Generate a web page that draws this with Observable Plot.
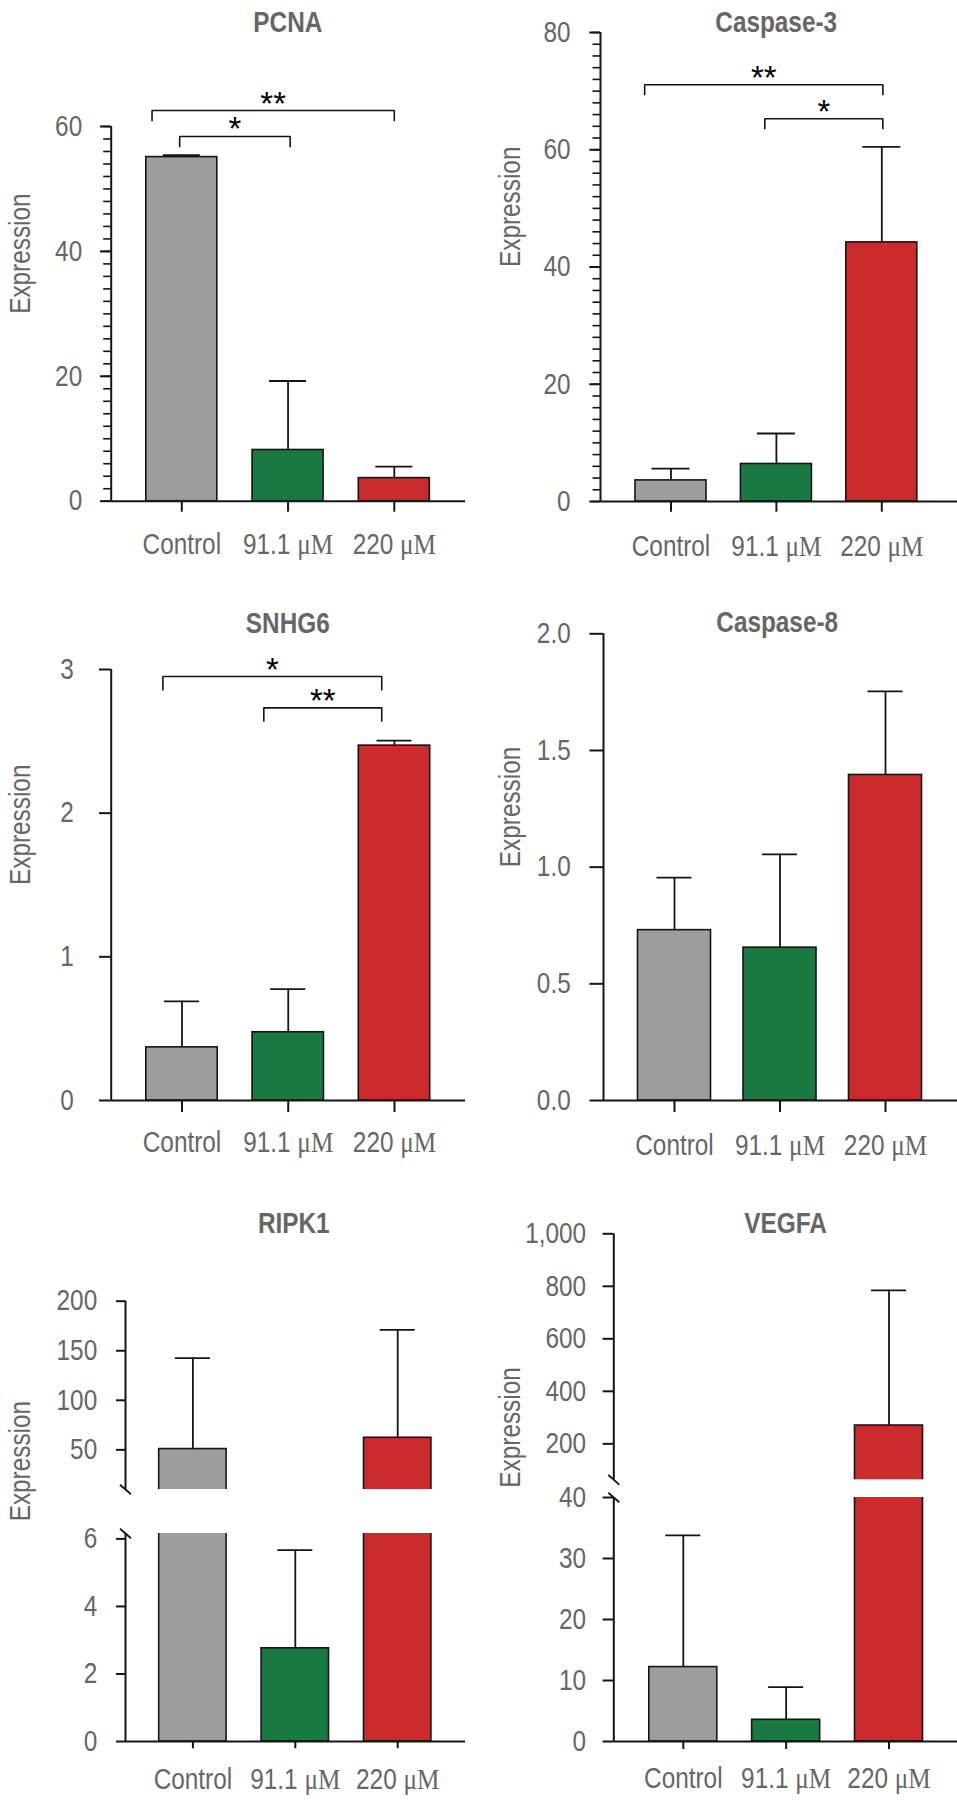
<!DOCTYPE html>
<html>
<head>
<meta charset="utf-8">
<script src="https://cdn.jsdelivr.net/npm/d3@7"></script>
<script src="https://cdn.jsdelivr.net/npm/@observablehq/plot@0.6"></script>
<style>
  html, body { margin: 0; padding: 0; background: #ffffff; }
  #root { position: relative; width: 957px; height: 1800px; overflow: hidden; background: #ffffff; }
  #root svg { position: absolute; }
</style>
</head>
<body>
<div id="root"></div>
<script>
// ---------------- DATA ----------------
const groups = ["Control", "91.1 μM", "220 μM"];
const groupIndex = [0, 1, 2];

const pcnaMean = [55.1, 8.2, 3.7];
const pcnaErr = [0.3, 11.05, 1.85];
const pcnaTicks = [0, 20, 40, 60];
const pcnaMinorTicks = [0,2,4,6,8,10,12,14,16,18,20,22,24,26,28,30,32,34,36,38,40,42,44,46,48,50,52,54,56,58,60];
const pcnaBrackets = [
  {from: -0.02, to: 1.02, y: 58.4, label: "*"},
  {from: -0.28, to: 2.0, y: 62.56, label: "**"}
];

const casp3Mean = [3.6, 6.4, 44.2];
const casp3Err = [2.0, 5.2, 16.3];
const casp3Ticks = [0, 20, 40, 60, 80];
const casp3MinorTicks = [0,2,4,6,8,10,12,14,16,18,20,22,24,26,28,30,32,34,36,38,40,42,44,46,48,50,52,54,56,58,60,62,64,66,68,70,72,74,76,78,80];
const casp3Brackets = [
  {from: -0.25, to: 2.01, y: 71.08, label: "**"},
  {from: 0.89, to: 2.01, y: 65.28, label: "*"}
];

const snhg6Mean = [0.37, 0.475, 2.47];
const snhg6Err = [0.32, 0.30, 0.035];
const snhg6Ticks = [0, 1, 2, 3];
const snhg6Brackets = [
  {from: -0.18, to: 1.88, y: 2.951, label: "*"},
  {from: 0.77, to: 1.88, y: 2.733, label: "**"}
];

const casp8Mean = [0.73, 0.655, 1.395];
const casp8Err = [0.225, 0.40, 0.358];
const casp8Ticks = [0, 0.5, 1, 1.5, 2];

const ripk1Mean = [50.8, 2.76, 62.2];
const ripk1Err = [91.8, 2.91, 108.8];
const ripk1UpperTicks = [50, 100, 150, 200];
const ripk1LowerTicks = [0, 2, 4, 6];

const vegfaMean = [12.2, 3.56, 269.7];
const vegfaErr = [21.6, 5.34, 515];
const vegfaUpperTicks = [200, 400, 600, 800, 1000];
const vegfaLowerTicks = [0, 10, 20, 30, 40];

// ---------------- STYLE ----------------
const FONT = "'Liberation Sans', Arial, sans-serif";
const SERIF = "'Liberation Serif', 'Times New Roman', serif";
const STAR_FONT = "'Liberation Sans', Arial, sans-serif";
const GRAY = "#666666";
const INK = "#151515";
const COLORS = ["#9d9d9c", "#1a7943", "#cb2b2c"];
const FS = 29;
const NARROW = 0.84;   // horizontal condensing of the sans text

const fmtInt = d3.format("d");
const fmt1 = d3.format(".1f");
const fmtComma = d3.format(",");

// ---------------- LAYOUT (pixels) ----------------
const panels = [
  {title: "PCNA", mean: pcnaMean, err: pcnaErr, brackets: pcnaBrackets, legPx: 10.7,
   left: 0, top: 0, w: 480, h: 590, axisX: 110.7, right: 465, c0: 181.3, step: 106.25, barHalf: 35.5, capHalf: 18.5,
   segs: [{domain: [0, 60], top: 126, bottom: 500.7, ticks: pcnaTicks, minor: pcnaMinorTicks}],
   yTickSize: 10.7, yTickPad: 18.3, yFormat: fmtInt, xTickSize: 11, xLabelGap: 32.6, titleX: 287.3, titleY: 31.7, labelX: 20},
  {title: "Caspase-3", mean: casp3Mean, err: casp3Err, brackets: casp3Brackets, legPx: 10.4,
   left: 480, top: 0, w: 477, h: 590, axisX: 600, right: 957, c0: 670.5, step: 105.4, barHalf: 35.5, capHalf: 19,
   segs: [{domain: [0, 80], top: 32, bottom: 501, ticks: casp3Ticks, minor: casp3MinorTicks}],
   yTickSize: 10.7, yTickPad: 19.3, yFormat: fmtInt, xTickSize: 10.7, xLabelGap: 34, titleX: 775.7, titleY: 31.7, labelX: 510},
  {title: "SNHG6", mean: snhg6Mean, err: snhg6Err, brackets: snhg6Brackets, legPx: 14,
   left: 0, top: 590, w: 480, h: 590, axisX: 110.7, right: 465, c0: 181.5, step: 106.25, barHalf: 35.7, capHalf: 17.5,
   segs: [{domain: [0, 3], top: 669, bottom: 1100, ticks: snhg6Ticks}],
   yTickSize: 11.7, yTickPad: 25.7, yFormat: fmtInt, xTickSize: 12, xLabelGap: 31, titleX: 287.3, titleY: 632.7, labelX: 20},
  {title: "Caspase-8", mean: casp8Mean, err: casp8Err, brackets: [], legPx: 10,
   left: 480, top: 590, w: 477, h: 590, axisX: 603, right: 957, c0: 674, step: 105.5, barHalf: 36.5, capHalf: 17.5,
   segs: [{domain: [0, 2], top: 633.3, bottom: 1100, ticks: casp8Ticks}],
   yTickSize: 13.5, yTickPad: 19.3, yFormat: fmt1, xTickSize: 12, xLabelGap: 34.3, titleX: 776.7, titleY: 631.7, labelX: 510},
  {title: "RIPK1", mean: ripk1Mean, err: ripk1Err, brackets: [], legPx: 10,
   left: 0, top: 1180, w: 480, h: 620, axisX: 125, right: 465, c0: 192.4, step: 102.4, barHalf: 33.7, capHalf: 17.5,
   segs: [{domain: [10, 200], top: 1300.7, bottom: 1489, ticks: ripk1UpperTicks},
          {domain: [0, 6.16], top: 1533, bottom: 1741, ticks: ripk1LowerTicks}],
   yTickSize: 9, yTickPad: 19.3, yFormat: fmtInt, xTickSize: 7.3, xLabelGap: 27.3, titleX: 293.3, titleY: 1232.7, labelX: 20},
  {title: "VEGFA", mean: vegfaMean, err: vegfaErr, brackets: [], legPx: 10,
   left: 480, top: 1180, w: 477, h: 620, axisX: 613.3, right: 957, c0: 682.8, step: 102.85, barHalf: 34, capHalf: 17.5,
   segs: [{domain: [63, 1000], top: 1233.3, bottom: 1479.3, ticks: vegfaUpperTicks},
          {domain: [0, 40], top: 1497, bottom: 1741, ticks: vegfaLowerTicks}],
   yTickSize: 10.7, yTickPad: 17, yFormat: fmtComma, xTickSize: 8, xLabelGap: 25.7, titleX: 785, titleY: 1232.7, labelX: 510}
];

const root = document.getElementById("root");
const SVGNS = "http://www.w3.org/2000/svg";

// Condense a text element horizontally about its anchor point.
function condense(t, s) {
  const x = +t.getAttribute("x") || 0, y = +t.getAttribute("y") || 0;
  const tr = t.getAttribute("transform") || "";
  t.setAttribute("transform", `${tr} translate(${x},${y}) scale(${s},1) translate(${-x},${-y})`.trim());
}

// Set "μM" in a serif face, and condense the sans text.
function finishText(svg) {
  svg.querySelectorAll("text").forEach(t => {
    const s = t.textContent;
    if (!s.length || /^\*+$/.test(s)) return;
    if (t.childElementCount === 0 && /μM$/.test(s)) {
      t.textContent = "";
      const a = document.createElementNS(SVGNS, "tspan");
      a.textContent = s.slice(0, -2);
      const b = document.createElementNS(SVGNS, "tspan");
      b.textContent = "μM";
      b.setAttribute("font-family", SERIF);
      b.setAttribute("font-size", "30");
      t.appendChild(a);
      t.appendChild(b);
    }
    condense(t, NARROW);
  });
}

function buildPanel(p) {
  const xDomain = [(p.axisX - p.c0) / p.step, (p.right - p.c0) / p.step];
  const hw = p.barHalf / p.step, cw = p.capHalf / p.step;
  const rows = groupIndex.map(i => ({i, mean: p.mean[i], top: p.mean[i] + p.err[i]}));
  const nSeg = p.segs.length;
  const labelCenterY = (p.segs[0].top + p.segs[nSeg - 1].bottom) / 2;

  p.segs.forEach((seg, k) => {
    const first = k === 0, last = k === nSeg - 1;
    const ppu = (seg.bottom - seg.top) / (seg.domain[1] - seg.domain[0]);
    const marks = [];

    // bars (clipped to the axis segment)
    marks.push(Plot.rect(rows, {
      x1: d => d.i - hw, x2: d => d.i + hw, y1: () => 0, y2: "mean",
      fill: d => COLORS[d.i], stroke: INK, strokeWidth: 1.6, clip: true
    }));
    // error bars (upper only)
    marks.push(Plot.ruleX(rows, {x: "i", y1: "mean", y2: "top", stroke: INK, strokeWidth: 1.8, clip: true}));
    marks.push(Plot.ruleY(rows, {y: "top", x1: d => d.i - cw, x2: d => d.i + cw, stroke: INK, strokeWidth: 1.8, clip: true}));

    // y axis line and ticks
    marks.push(Plot.ruleX([xDomain[0]], {stroke: INK, strokeWidth: 2}));
    if (seg.minor) {
      marks.push(Plot.axisY({ticks: seg.minor, tickSize: 7.5, fill: "none", stroke: INK, strokeWidth: 1.6, label: null}));
    }
    marks.push(Plot.axisY({
      ticks: seg.ticks, tickSize: p.yTickSize, tickPadding: p.yTickPad, tickFormat: p.yFormat,
      fontSize: FS, fontFamily: FONT, fill: GRAY, stroke: INK, strokeWidth: 2, label: null
    }));

    // axis break marks
    if (nSeg > 1) {
      const edge = first ? seg.domain[0] : seg.domain[1];
      const sx = 5.5 / p.step, sy = 4.8 / ppu;
      marks.push(Plot.link([edge], {
        x1: () => xDomain[0] - sx, y1: e => e + sy, x2: () => xDomain[0] + sx, y2: e => e - sy,
        stroke: INK, strokeWidth: 1.8
      }));
    }

    if (last) {
      marks.push(Plot.ruleY([0], {stroke: INK, strokeWidth: 2}));
      marks.push(Plot.axisX({
        ticks: groupIndex, tickFormat: i => groups[i], tickSize: p.xTickSize, tickPadding: p.xLabelGap - p.xTickSize,
        fontSize: FS, fontFamily: FONT, fill: GRAY, stroke: INK, strokeWidth: 2, label: null
      }));
      marks.push(Plot.text(["Expression"], {
        text: d => d, frameAnchor: "left", rotate: -90,
        dx: p.labelX - p.axisX, dy: labelCenterY - (seg.top + seg.bottom) / 2,
        fontSize: FS, fontFamily: FONT, fill: GRAY
      }));
    }

    if (first) {
      marks.push(Plot.text([p.title], {
        text: d => d, frameAnchor: "top", lineAnchor: "bottom",
        dx: p.titleX - (p.axisX + p.right) / 2, dy: p.titleY - seg.top,
        fontSize: FS, fontWeight: "bold", fontFamily: FONT, fill: GRAY
      }));
      if (p.brackets.length) {
        const legU = p.legPx / ppu;
        const pts = p.brackets.flatMap((b, j) => [
          {j, x: b.from, y: b.y - legU}, {j, x: b.from, y: b.y},
          {j, x: b.to, y: b.y}, {j, x: b.to, y: b.y - legU}
        ]);
        marks.push(Plot.line(pts, {x: "x", y: "y", z: "j", stroke: INK, strokeWidth: 1.6, strokeLinejoin: "miter", strokeLinecap: "butt"}));
        marks.push(Plot.text(p.brackets, {
          x: b => (b.from + b.to) / 2, y: "y", text: "label", lineAnchor: "bottom", dy: 4,
          fontSize: 33, fontFamily: STAR_FONT, fill: "#000000"
        }));
      }
    }

    const svg = Plot.plot({
      width: p.w, height: p.h,
      marginLeft: p.axisX - p.left, marginRight: p.left + p.w - p.right,
      marginTop: seg.top - p.top, marginBottom: p.top + p.h - seg.bottom,
      x: {type: "linear", domain: xDomain, axis: null},
      y: {type: "linear", domain: seg.domain, axis: null},
      style: {background: "transparent", overflow: "visible", fontFamily: FONT},
      marks
    });
    svg.style.left = p.left + "px";
    svg.style.top = p.top + "px";
    root.appendChild(svg);
    finishText(svg);
  });
}

panels.forEach(buildPanel);
</script>
</body>
</html>
